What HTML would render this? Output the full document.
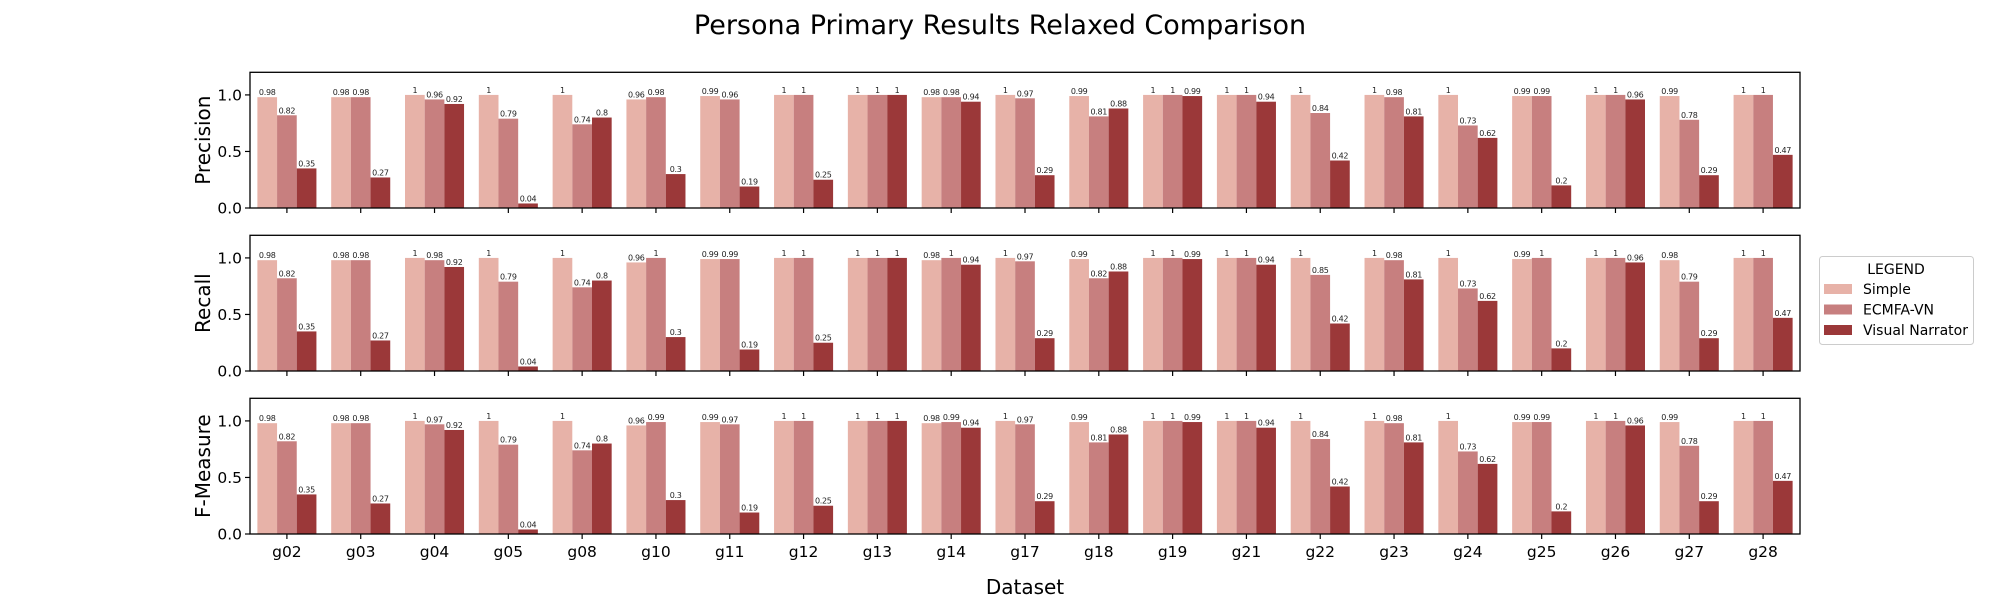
<!DOCTYPE html>
<html><head><meta charset="utf-8"><style>
body{margin:0;background:#fff;}
svg{display:block;font-family:"DejaVu Sans","Liberation Sans",sans-serif;}
</style></head><body>
<svg id="chart" width="2000" height="600" xmlns="http://www.w3.org/2000/svg"></svg>
<script>
const categories=["g02","g03","g04","g05","g08","g10","g11","g12","g13","g14","g17","g18","g19","g21","g22","g23","g24","g25","g26","g27","g28"];
const seriesNames=["Simple","ECMFA-VN","Visual Narrator"];
const metrics=["Precision","Recall","F-Measure"];
const precisionSimple=[0.98,0.98,1,1,1,0.96,0.99,1,1,0.98,1,0.99,1,1,1,1,1,0.99,1,0.99,1];
const precisionEcmfa=[0.82,0.98,0.96,0.79,0.74,0.98,0.96,1,1,0.98,0.97,0.81,1,1,0.84,0.98,0.73,0.99,1,0.78,1];
const precisionVn=[0.35,0.27,0.92,0.04,0.8,0.3,0.19,0.25,1,0.94,0.29,0.88,0.99,0.94,0.42,0.81,0.62,0.2,0.96,0.29,0.47];
const recallSimple=[0.98,0.98,1,1,1,0.96,0.99,1,1,0.98,1,0.99,1,1,1,1,1,0.99,1,0.98,1];
const recallEcmfa=[0.82,0.98,0.98,0.79,0.74,1,0.99,1,1,1,0.97,0.82,1,1,0.85,0.98,0.73,1,1,0.79,1];
const recallVn=[0.35,0.27,0.92,0.04,0.8,0.3,0.19,0.25,1,0.94,0.29,0.88,0.99,0.94,0.42,0.81,0.62,0.2,0.96,0.29,0.47];
const fSimple=[0.98,0.98,1,1,1,0.96,0.99,1,1,0.98,1,0.99,1,1,1,1,1,0.99,1,0.99,1];
const fEcmfa=[0.82,0.98,0.97,0.79,0.74,0.99,0.97,1,1,0.99,0.97,0.81,1,1,0.84,0.98,0.73,0.99,1,0.78,1];
const fVn=[0.35,0.27,0.92,0.04,0.8,0.3,0.19,0.25,1,0.94,0.29,0.88,0.99,0.94,0.42,0.81,0.62,0.2,0.96,0.29,0.47];
const yTicks=[0,0.5,1.0];
const yTickLabels=["0.0","0.5","1.0"];
const panelData=[[precisionSimple,precisionEcmfa,precisionVn],[recallSimple,recallEcmfa,recallVn],[fSimple,fEcmfa,fVn]];

const colors=["#e7b2a8","#c77f7f","#9b3839"];
const NS="http://www.w3.org/2000/svg";
const svg=document.getElementById('chart');
function mk(tag,attrs,parent){const e=document.createElementNS(NS,tag);for(const k in attrs)e.setAttribute(k,attrs[k]);(parent||svg).appendChild(e);return e;}
const X0=250,X1=1800,H=135.7,YMAX=1.2;
const tops=[72.3,235.3,398.3];
const gw=(X1-X0)/categories.length, bw=gw*0.8/3;
function xScale(i){return X0+gw*(i+0.5);}
function yScale(v,p){return tops[p]+H-(v/YMAX)*H;}

let t=mk('text',{x:1000,y:34,'font-size':27,'text-anchor':'middle',fill:'#000'});


t.textContent='Persona Primary Results Relaxed Comparison';

metrics.forEach((m,p)=>{
  const g=mk('g',{});
  
  
  panelData[p].forEach((vals,s)=>{
    vals.forEach((v,i)=>{
      const x=xScale(i)-gw*0.4+s*bw;
      const r=mk('rect',{x:x,y:yScale(v,p),width:bw,height:yScale(0,p)-yScale(v,p),fill:colors[s]},g);
      
      
      const l=mk('text',{x:x+bw/2,y:yScale(v,p)-2,'font-size':8,'letter-spacing':'-0.3','text-anchor':'middle',fill:'#222'},g);
      
      
      l.textContent=String(v);
    });
  });
  const f=mk('rect',{x:X0,y:tops[p],width:X1-X0,height:H,fill:'none',stroke:'#000','stroke-width':1.3},g);
  
  
  yTicks.forEach((tv,k)=>{
    const y=yScale(tv,p);
    mk('line',{x1:X0-5,x2:X0,y1:y,y2:y,stroke:'#000','stroke-width':1.2},g);
    const tl=mk('text',{x:X0-8,y:y+5.5,'font-size':15.5,'text-anchor':'end',fill:'#000'},g);
    
    
    tl.textContent=yTickLabels[k];
  });
  categories.forEach((c,i)=>{
    const x=xScale(i);
    mk('line',{x1:x,x2:x,y1:tops[p]+H,y2:tops[p]+H+5,stroke:'#000','stroke-width':1.2},g);
    if(p===2){
      const xl=mk('text',{x:x,y:tops[p]+H+23,'font-size':15.5,'text-anchor':'middle',fill:'#000'},g);
      
      
      xl.textContent=c;
    }
  });
  const yl=mk('text',{x:0,y:0,'font-size':20,'text-anchor':'middle',fill:'#000',transform:`translate(210,${tops[p]+H/2}) rotate(-90)`},g);
  
  
  yl.textContent=m;
});
const xt=mk('text',{x:1025,y:594,'font-size':20,'text-anchor':'middle',fill:'#000'});


xt.textContent='Dataset';

const lg=mk('g',{});


mk('rect',{x:1819.5,y:256.5,width:154,height:88,rx:3,fill:'#fff',stroke:'#ccc'},lg);
const lt=mk('text',{x:1896,y:274,'font-size':14,'text-anchor':'middle',fill:'#000'},lg);


lt.textContent='LEGEND';
seriesNames.forEach((n,s)=>{
  const y=289+s*20.5;
  const e=mk('g',{},lg);
  
  
  mk('rect',{x:1824,y:y-5,width:28,height:10,fill:colors[s]},e);
  const tx=mk('text',{x:1863,y:y+5,'font-size':14,fill:'#000'},e);
  tx.textContent=n;
});
</script>
</body></html>
